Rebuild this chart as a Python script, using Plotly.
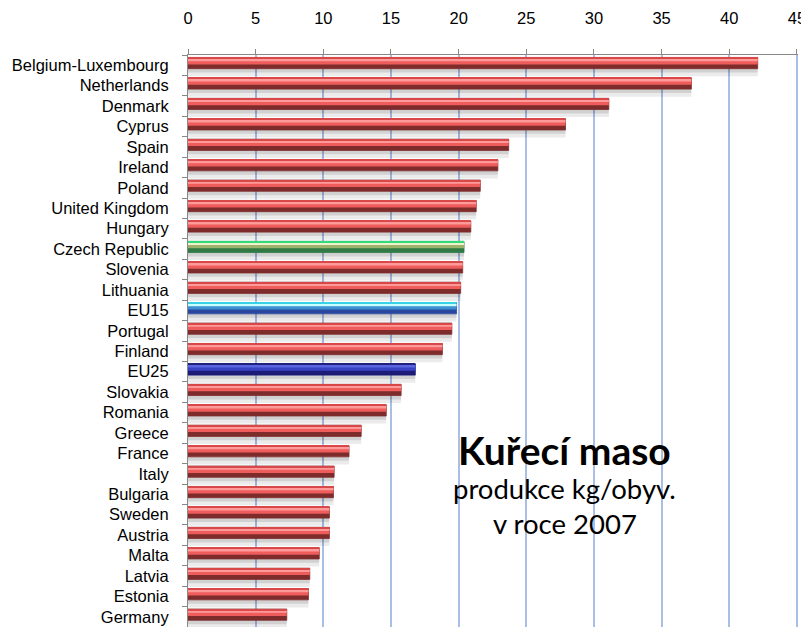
import plotly.graph_objects as go

countries = [
    'Belgium-Luxembourg', 'Netherlands', 'Denmark', 'Cyprus', 'Spain', 'Ireland',
    'Poland', 'United Kingdom', 'Hungary', 'Czech Republic', 'Slovenia', 'Lithuania',
    'EU15', 'Portugal', 'Finland', 'EU25', 'Slovakia', 'Romania', 'Greece', 'France',
    'Italy', 'Bulgaria', 'Sweden', 'Austria', 'Malta', 'Latvia', 'Estonia', 'Germany',
]
kg_per_person = [
    42.1, 37.2, 31.1, 27.9, 23.7, 22.9,
    21.6, 21.3, 20.9, 20.4, 20.3, 20.15,
    19.85, 19.5, 18.8, 16.8, 15.75, 14.65, 12.8, 11.9,
    10.8, 10.75, 10.45, 10.45, 9.7, 9.0, 8.9, 7.3,
]

# colour sets for the fake 3D bars: (bottom, middle, highlight, top edge)
palette = {
    'red': ('#7e2b2b', '#ee5c5c', '#ff9a9a', '#d94848'),
    'green': ('#2f7a45', '#9db26c', '#eef3cc', '#2fdc78'),
    'eu15': ('#2a47a0', '#3c8ed0', '#c8ffff', '#38d2e6'),
    'eu25': ('#1c1c78', '#3a42c4', '#5966e0', '#22227e'),
}
kind = {'Czech Republic': 'green', 'EU15': 'eu15', 'EU25': 'eu25'}


def colours(layer):
    return [palette[kind.get(c, 'red')][layer] for c in countries]


fig = go.Figure()

# soft shadow under each bar
fig.add_trace(go.Bar(y=countries, x=kg_per_person, orientation='h', offset=0.16, width=0.2,
                     marker=dict(color='rgba(0,0,0,0.18)', line=dict(width=0)), hoverinfo='skip'))
fig.add_trace(go.Bar(y=countries, x=kg_per_person, orientation='h', offset=0.36, width=0.18,
                     marker=dict(color='rgba(0,0,0,0.08)', line=dict(width=0)), hoverinfo='skip'))

# bar body (dark lower part)
fig.add_trace(go.Bar(y=countries, x=kg_per_person, orientation='h', offset=-0.38, width=0.55,
                     marker=dict(color=colours(0), line=dict(color=colours(0), width=0.8)),
                     hovertemplate='%{y}: %{x}<extra></extra>'))
# upper lighter part
fig.add_trace(go.Bar(y=countries, x=kg_per_person, orientation='h', offset=-0.36, width=0.32,
                     marker=dict(color=colours(1), line=dict(width=0)), hoverinfo='skip'))
# highlight strip
fig.add_trace(go.Bar(y=countries, x=kg_per_person, orientation='h', offset=-0.29, width=0.09,
                     marker=dict(color=colours(2), line=dict(width=0)), hoverinfo='skip'))
# top edge
fig.add_trace(go.Bar(y=countries, x=kg_per_person, orientation='h', offset=-0.38, width=0.06,
                     marker=dict(color=colours(3), line=dict(width=0)), hoverinfo='skip'))

# range goes a hair past 45 so the last grid line gets drawn
fig.update_xaxes(
    side='top', range=[0, 45.08], dtick=5, tick0=0,
    showgrid=True, gridcolor='#a9bfe6', gridwidth=2,
    showline=True, linecolor='#888888', linewidth=1,
    ticks='outside', ticklen=5, tickcolor='#888888',
    ticklabelstandoff=18, zeroline=False, ticklabeloverflow='allow', automargin=False,
    tickfont=dict(family='Liberation Sans, Arial', size=16.5, color='#000000'),
)
fig.update_yaxes(
    type='category', categoryorder='array', categoryarray=countries,
    range=[27.5, -0.5], showgrid=False,
    showline=True, linecolor='#888888', linewidth=1,
    ticks='outside', ticklen=5, tickcolor='#888888', tickson='boundaries',
    ticklabelstandoff=15, automargin=False,
    tickfont=dict(family='Liberation Sans, Arial', size=16.5, color='#000000'),
)

fig.add_annotation(text='<b>Kuřecí maso</b>', xref='paper', yref='paper', x=0.618, y=0.266,
                   showarrow=False, font=dict(family='Lato', size=39, color='#000000'))
fig.add_annotation(text='produkce kg/obyv.', xref='paper', yref='paper', x=0.618, y=0.21,
                   showarrow=False, font=dict(family='Lato', size=27.5, color='#000000'))
fig.add_annotation(text='v roce 2007', xref='paper', yref='paper', x=0.618, y=0.148,
                   showarrow=False, font=dict(family='Lato', size=27.5, color='#000000'))

# the page body adds an 8px margin, so the figure is a bit smaller than the window
fig.update_layout(
    width=801, height=619,
    margin=dict(l=179.5, r=11, t=47, b=0),
    barmode='overlay', showlegend=False,
    plot_bgcolor='white', paper_bgcolor='white',
)

fig.write_html('out.html')
